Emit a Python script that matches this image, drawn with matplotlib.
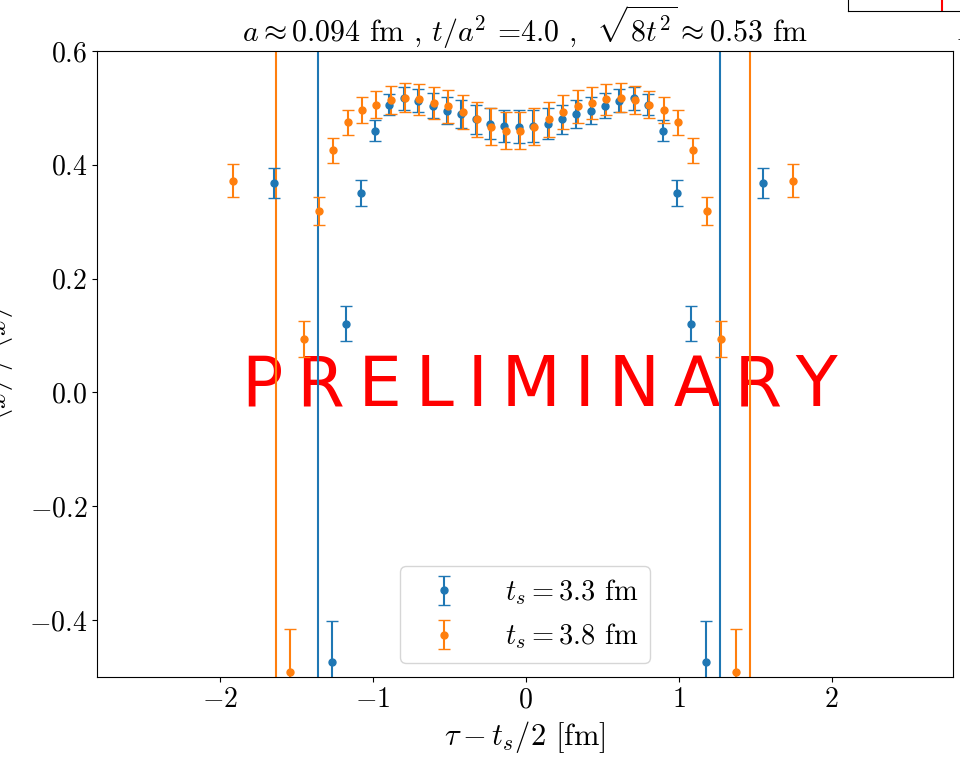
import numpy as np
import matplotlib
matplotlib.use('Agg')
import matplotlib.pyplot as plt

plt.rcParams['font.family'] = 'serif'
plt.rcParams['font.serif'] = ['cmr10']
plt.rcParams['mathtext.fontset'] = 'cm'
plt.rcParams['axes.formatter.use_mathtext'] = True
plt.rcParams['font.size'] = 20

# t_s = 3.3 fm
x_33 = [-1.644, -1.268, -1.174, -1.080, -0.986, -0.892, -0.798, -0.704, -0.610, -0.516,
        -0.422, -0.328, -0.234, -0.140, -0.046, 0.048, 0.142, 0.236, 0.330, 0.424,
        0.518, 0.612, 0.706, 0.800, 0.894, 0.988, 1.082, 1.176, 1.552]
y_33 = [0.368, -0.474, 0.121, 0.351, 0.460, 0.506, 0.517, 0.513, 0.504, 0.495,
        0.489, 0.480, 0.472, 0.468, 0.467, 0.468, 0.472, 0.480, 0.489, 0.495,
        0.504, 0.513, 0.517, 0.506, 0.460, 0.351, 0.121, -0.474, 0.368]
e_33 = [0.027, 0.072, 0.031, 0.0225, 0.019, 0.019, 0.020, 0.021, 0.022, 0.024,
        0.025, 0.026, 0.027, 0.028, 0.029, 0.028, 0.027, 0.026, 0.025, 0.024,
        0.022, 0.021, 0.020, 0.019, 0.019, 0.0225, 0.031, 0.072, 0.027]
vl_33 = [-1.362, 1.270]

# t_s = 3.8 fm
x_38 = [-1.918, -1.542, -1.448, -1.354, -1.260, -1.166, -1.072, -0.978, -0.884, -0.790,
        -0.696, -0.602, -0.508, -0.414, -0.320, -0.226, -0.132, -0.038, 0.056, 0.150,
        0.244, 0.338, 0.432, 0.526, 0.620, 0.714, 0.808, 0.902, 0.996, 1.090,
        1.184, 1.278, 1.372, 1.748]
y_38 = [0.372, -0.491, 0.094, 0.319, 0.426, 0.475, 0.496, 0.506, 0.514, 0.518,
        0.515, 0.509, 0.503, 0.493, 0.480, 0.467, 0.460, 0.460, 0.467, 0.480,
        0.493, 0.503, 0.509, 0.515, 0.518, 0.514, 0.506, 0.496, 0.475, 0.426,
        0.319, 0.094, -0.491, 0.372]
e_38 = [0.029, 0.076, 0.032, 0.025, 0.022, 0.022, 0.023, 0.024, 0.025, 0.026,
        0.027, 0.028, 0.029, 0.030, 0.031, 0.032, 0.033, 0.033, 0.032, 0.031,
        0.030, 0.029, 0.028, 0.027, 0.026, 0.025, 0.024, 0.023, 0.022, 0.022,
        0.025, 0.032, 0.076, 0.029]
vl_38 = [-1.636, 1.466]

fig = plt.figure(figsize=(9.6, 7.58), dpi=100)
ax = fig.add_axes([0.101, 0.1069, 0.892, 0.8258])

for v in vl_33:
    ax.axvline(v, color='C0', lw=1.5, zorder=1.5)
for v in vl_38:
    ax.axvline(v, color='C1', lw=1.5, zorder=1.5)

ax.errorbar(x_33, y_33, yerr=e_33, fmt='o', ms=5, capsize=4, color='C0',
            label=r'$t_s = 3.3$ fm')
ax.errorbar(x_38, y_38, yerr=e_38, fmt='o', ms=5, capsize=4, color='C1',
            label=r'$t_s = 3.8$ fm')

ax.set_xlim(-2.805, 2.795)
ax.set_ylim(-0.5, 0.6)
ax.set_xticks([-2, -1, 0, 1, 2])
ax.set_yticks([-0.4, -0.2, 0.0, 0.2, 0.4, 0.6])
ax.set_xlabel(r'$\tau - t_s/2$ [fm]', fontsize=22)
ax.set_ylabel(r'$\langle x \rangle \; / \; \langle x \rangle$', fontsize=21)
ax.yaxis.set_label_coords(-0.095, 0.5)
ax.set_title(r'$a \approx 0.094$ fm , $t/a^2$ =4.0 ,  $\sqrt{8t^2} \approx 0.53$ fm',
             fontsize=21.5, pad=6)
ax.legend(loc='lower center', fontsize=20.5, handlelength=2.3, handletextpad=1.0)

sp = '\u2009'
ax.text(539.5 / 960, 1 - 406 / 758, sp.join('PRELIMINARY'), transform=fig.transFigure,
        color='red', fontsize=49.4, family='DejaVu Sans', ha='center', va='baseline',
        zorder=0.5)

# neighbouring panel cut off at the top right
ax2 = fig.add_axes([848 / 960, 1 - 11 / 758, 0.3, 0.2])
ax2.set_xlim(0, 1)
ax2.axvline(0.326, color='red', lw=1.5)
ax2.set_xticks([])
ax2.set_yticks([])
fig.text(955 / 960, 1 - 37 / 758, r'$-$', ha='left', va='center')

fig.savefig('out.png', dpi=100)
